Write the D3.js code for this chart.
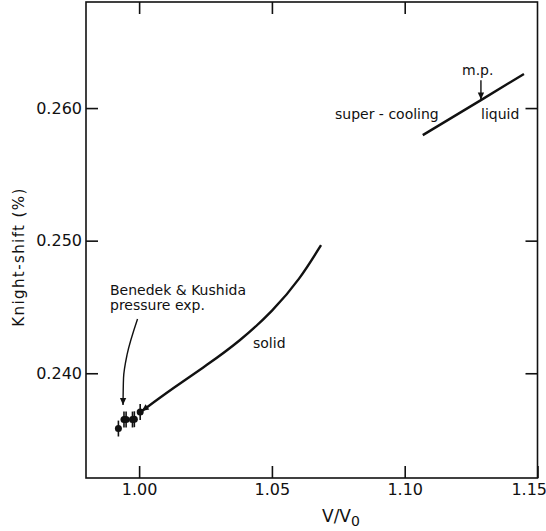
<!DOCTYPE html>
<html lang="en">
<head>
    <meta charset="utf-8" />
    <title>Knight shift vs V/V0</title>
    <script src="https://cdnjs.cloudflare.com/ajax/libs/d3/7.8.5/d3.min.js"></script>
    <style>
        body { margin: 0; background: white; }
        text { font-family: "DejaVu Sans", sans-serif; fill: #111; }
        .tick-label { font-size: 16px; }
        .note { font-size: 14px; }
    </style>
</head>
<body>
<div id="chart"></div>

<script>
    // pressure experiment points (Benedek & Kushida)
    const pressureV = [0.9922, 0.9943, 0.9951, 0.9975, 0.9982, 1.0004];
    const pressureK = [0.23583, 0.23651, 0.23651, 0.23651, 0.23653, 0.23708];
    const pressureErr = [0.0006, 0.0006, 0.0006, 0.0006, 0.0006, 0.0006];

    // solid branch
    const solidV = [1.0010, 1.0128, 1.0256, 1.0380, 1.0504, 1.0606, 1.0685];
    const solidK = [0.23715, 0.23889, 0.24062, 0.24243, 0.24470, 0.24711, 0.24967];

    // liquid / super-cooling branch
    const liquidV = [1.1068, 1.1287, 1.1449];
    const liquidK = [0.25796, 0.26060, 0.26257];

    const xTicks = [1.00, 1.05, 1.10, 1.15];
    const xTickLabels = ["1.00", "1.05", "1.10", "1.15"];
    const yTicks = [0.240, 0.250, 0.260];
    const yTickLabels = ["0.240", "0.250", "0.260"];

    const width = 546;
    const height = 531;
    const margin = {left: 86, top: 2, right: 8.5, bottom: 53};
    const tickLen = 12;

    const svg = d3.select("#chart")
        .append("svg")
        .attr("width", width)
        .attr("height", height);

    const x = d3.scaleLinear()
        .domain([0.98, 1.15])
        .range([margin.left, width - margin.right]);

    const y = d3.scaleLinear()
        .domain([0.2321, 0.268])
        .range([height - margin.bottom, margin.top]);

    // arrow head
    svg.append("defs").append("marker")
        .attr("id", "arrow")
        .attr("viewBox", "0 0 10 10")
        .attr("refX", 10)
        .attr("refY", 5)
        .attr("markerWidth", 10)
        .attr("markerHeight", 7)
        .attr("markerUnits", "userSpaceOnUse")
        .attr("orient", "auto-start-reverse")
        .append("path")
        .attr("d", "M0,0.5 L10,5 L0,9.5 Z")
        .attr("fill", "#111");

    // frame
    svg.append("rect")
        .attr("x", x.range()[0])
        .attr("y", y.range()[1])
        .attr("width", x.range()[1] - x.range()[0])
        .attr("height", y.range()[0] - y.range()[1])
        .attr("fill", "none")
        .attr("stroke", "#111")
        .attr("stroke-width", 1.6);

    // inward ticks on all four sides
    const bottomAxis = d3.axisBottom(x).tickValues(xTicks).tickSize(-tickLen).tickPadding(6)
        .tickFormat((d, i) => xTickLabels[i]);
    const topAxis = d3.axisTop(x).tickValues(xTicks.slice(0, 3)).tickSize(-tickLen).tickFormat("");
    const leftAxis = d3.axisLeft(y).tickValues(yTicks).tickSize(-tickLen).tickPadding(4)
        .tickFormat((d, i) => yTickLabels[i]);
    const rightAxis = d3.axisRight(y).tickValues(yTicks).tickSize(-tickLen).tickFormat("");

    function styleAxis(g) {
        g.select(".domain").remove();
        g.selectAll("line").attr("stroke", "#111").attr("stroke-width", 1.6);
        g.selectAll("text").attr("class", "tick-label").attr("font-size", null).attr("font-family", null);
    }

    const gBottom = svg.append("g").attr("transform", `translate(0,${y.range()[0]})`).call(bottomAxis).call(styleAxis);
    // last label sits at the right edge of the page
    gBottom.selectAll("text").filter(d => d === 1.15)
        .attr("text-anchor", "end").attr("dx", 9);
    svg.append("g").attr("transform", `translate(0,${y.range()[1]})`).call(topAxis).call(styleAxis);
    svg.append("g").attr("transform", `translate(${x.range()[0]},0)`).call(leftAxis).call(styleAxis);
    svg.append("g").attr("transform", `translate(${x.range()[1]},0)`).call(rightAxis).call(styleAxis);

    // axis titles
    svg.append("text")
        .attr("transform", `translate(19,257) rotate(-90)`)
        .attr("text-anchor", "middle")
        .attr("dominant-baseline", "middle")
        .attr("font-size", 15)
        .attr("letter-spacing", 1.4)
        .text("Knight-shift (%)");

    const xTitle = svg.append("text")
        .attr("x", 322)
        .attr("y", 522)
        .attr("font-size", 17);
    xTitle.append("tspan").text("V/V");
    xTitle.append("tspan").attr("dy", 4).attr("font-size", 14).text("0");

    // curves
    const line = d3.line()
        .x(d => x(d[0]))
        .y(d => y(d[1]))
        .curve(d3.curveBasis);

    svg.append("path")
        .datum(d3.zip(solidV, solidK))
        .attr("d", line)
        .attr("fill", "none")
        .attr("stroke", "#111")
        .attr("stroke-width", 2.4)
        .attr("marker-start", "url(#arrow)");

    svg.append("path")
        .datum(d3.zip(liquidV, liquidK))
        .attr("d", line.curve(d3.curveNatural))
        .attr("fill", "none")
        .attr("stroke", "#111")
        .attr("stroke-width", 2.4);

    // pressure experiment points with error bars
    const pts = d3.zip(pressureV, pressureK, pressureErr);
    svg.selectAll(".err")
        .data(pts)
        .enter()
        .append("line")
        .attr("class", "err")
        .attr("x1", d => x(d[0]))
        .attr("x2", d => x(d[0]))
        .attr("y1", d => y(d[1] - d[2]))
        .attr("y2", d => y(d[1] + d[2]))
        .attr("stroke", "#111")
        .attr("stroke-width", 1.6);

    svg.selectAll(".pt")
        .data(pts)
        .enter()
        .append("circle")
        .attr("class", "pt")
        .attr("cx", d => x(d[0]))
        .attr("cy", d => y(d[1]))
        .attr("r", 3.5)
        .attr("fill", "#111");

    // annotation arrows
    const benedekArrow = [[0.99940, 0.24409], [0.99544, 0.24138], [0.99413, 0.23964], [0.99394, 0.23761]];
    svg.append("path")
        .datum(benedekArrow)
        .attr("d", d3.line().x(d => x(d[0])).y(d => y(d[1])).curve(d3.curveMonotoneY))
        .attr("fill", "none")
        .attr("stroke", "#111")
        .attr("stroke-width", 1.4)
        .attr("marker-end", "url(#arrow)");

    const mpArrow = [[1.1287, 0.26210], [1.1287, 0.26065]];
    svg.append("path")
        .datum(mpArrow)
        .attr("d", d3.line().x(d => x(d[0])).y(d => y(d[1])))
        .attr("fill", "none")
        .attr("stroke", "#111")
        .attr("stroke-width", 1.4)
        .attr("marker-end", "url(#arrow)");

    // notes
    const notes = [
        {t: "Benedek & Kushida", x: 110, y: 295},
        {t: "pressure exp.", x: 110, y: 310},
        {t: "solid", x: 253, y: 348},
        {t: "super - cooling", x: 335, y: 119},
        {t: "liquid", x: 481, y: 119},
        {t: "m.p.", x: 462, y: 75}
    ];
    svg.selectAll(".note")
        .data(notes)
        .enter()
        .append("text")
        .attr("class", "note")
        .attr("x", d => d.x)
        .attr("y", d => d.y)
        .text(d => d.t);
</script>
</body>
</html>
